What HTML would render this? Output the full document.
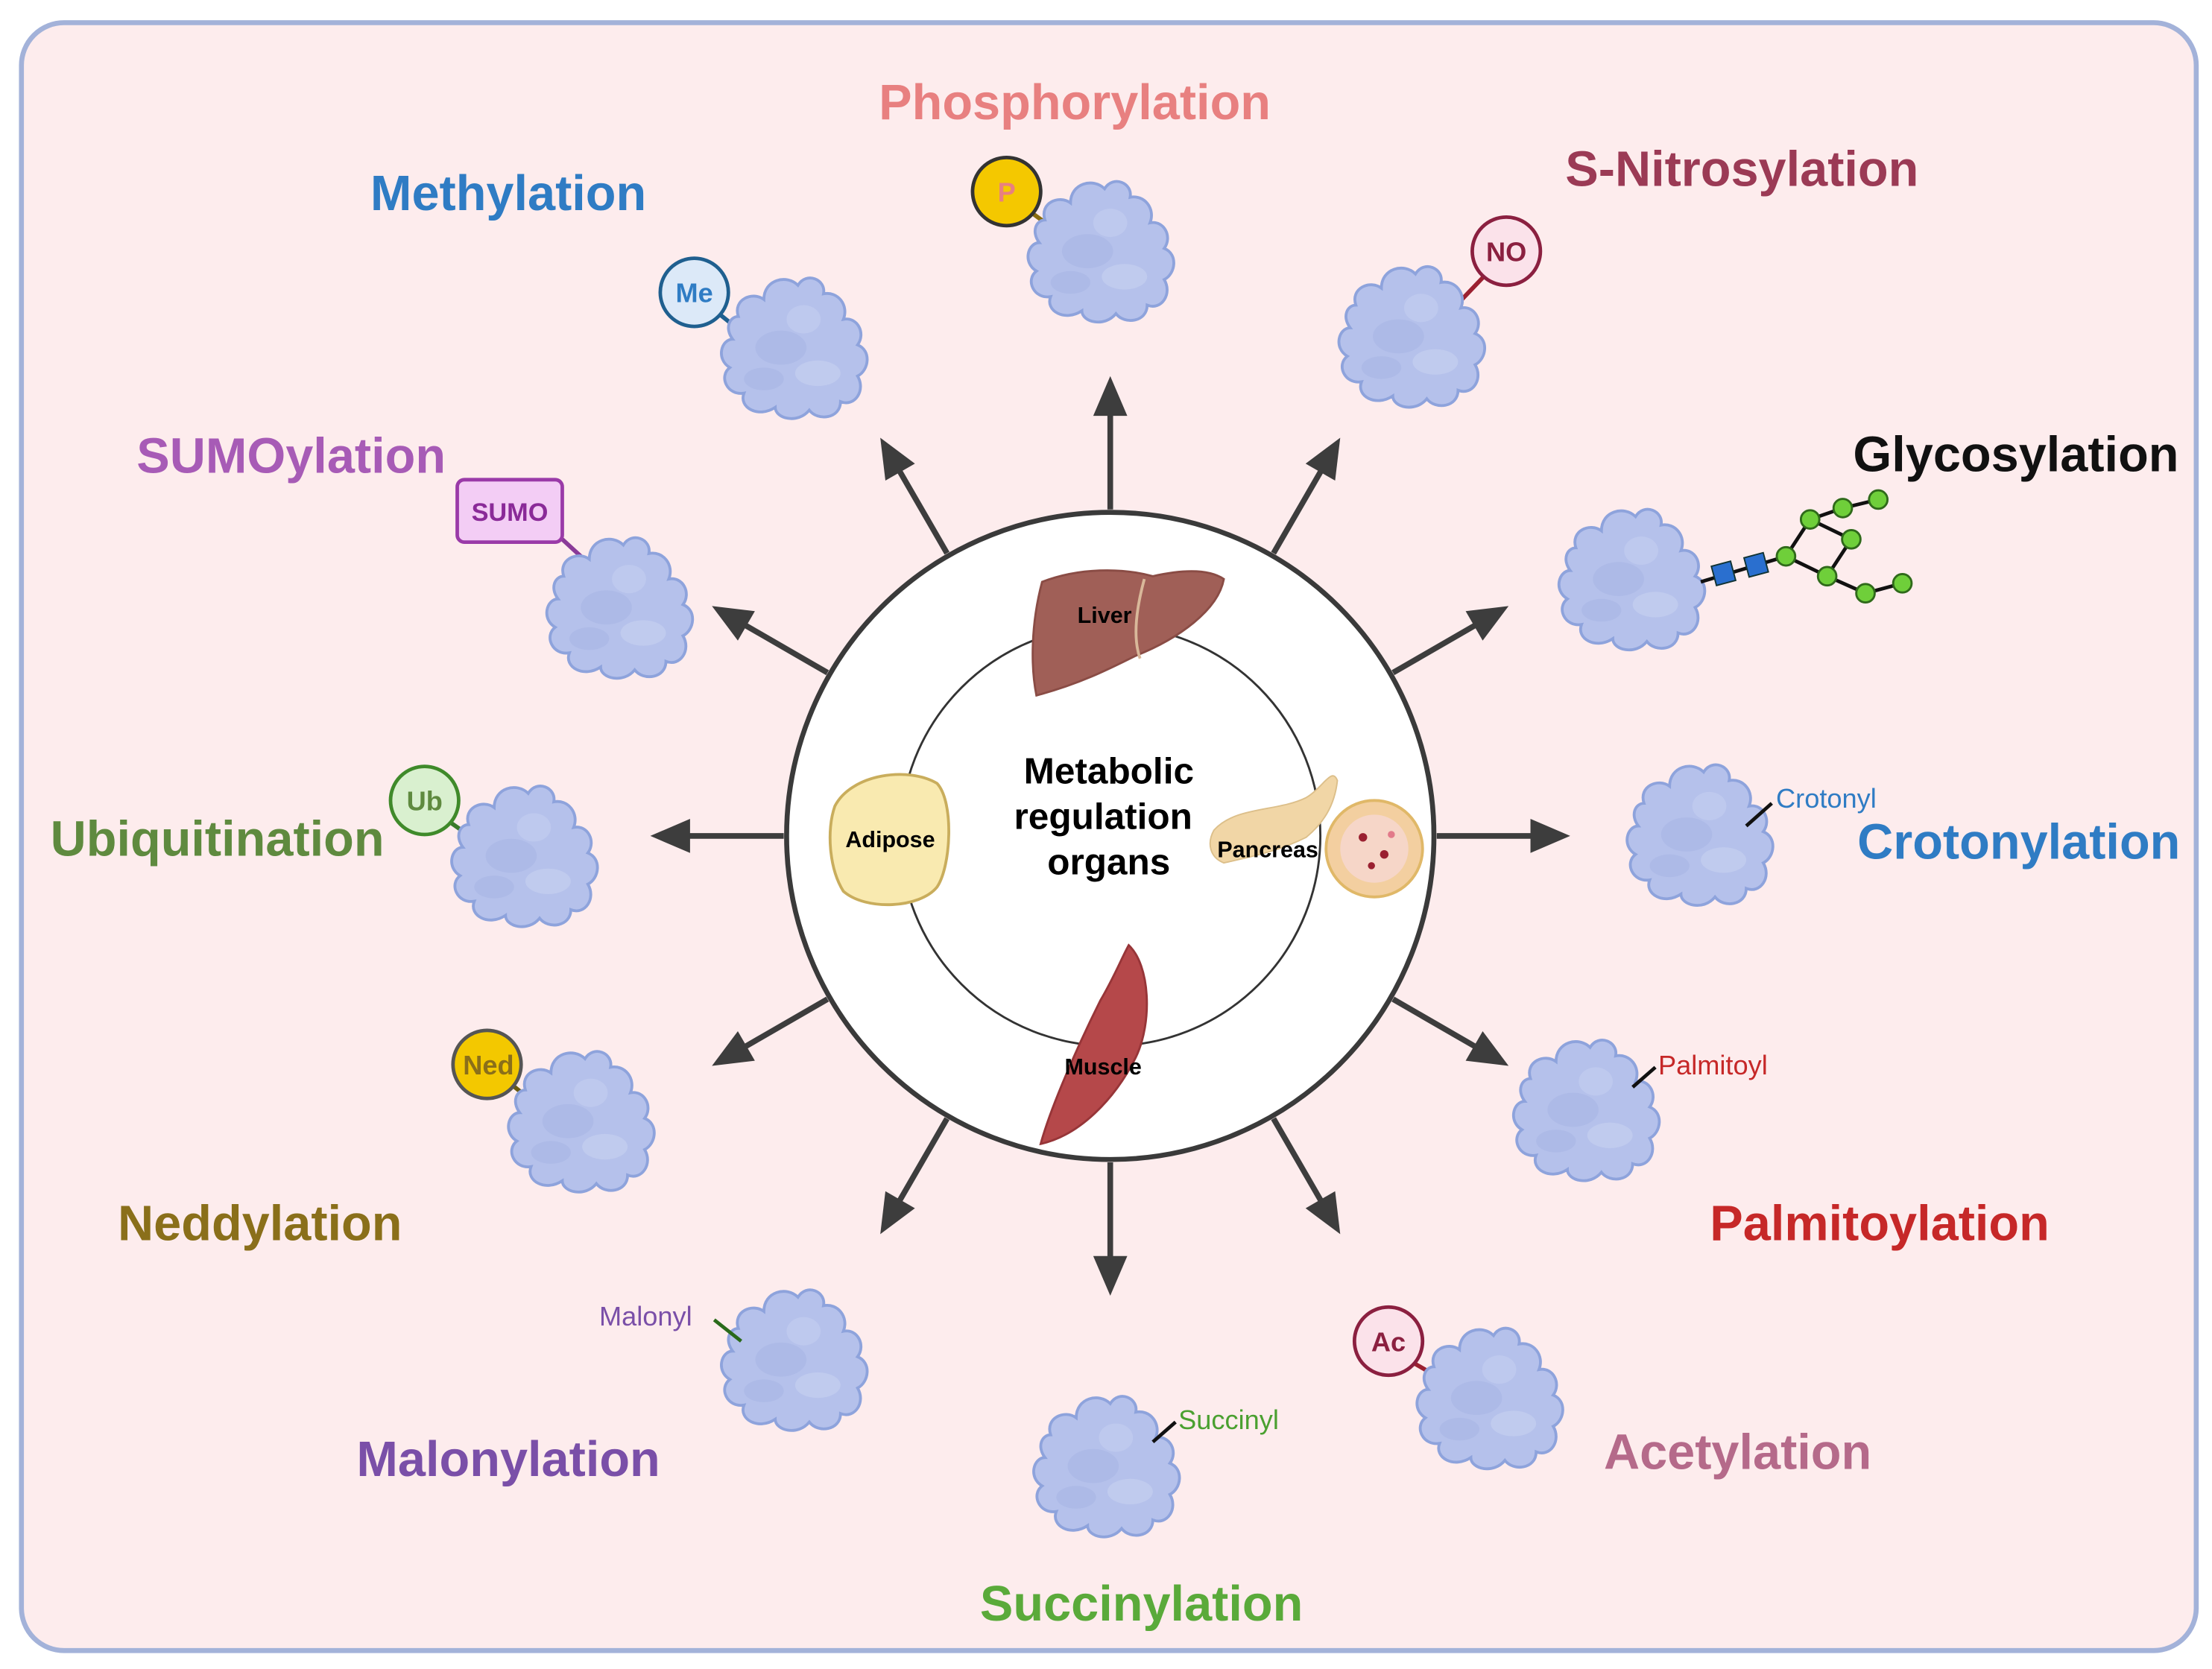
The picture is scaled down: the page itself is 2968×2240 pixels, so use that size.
<!DOCTYPE html>
<html><head><meta charset="utf-8"><style>
html,body{margin:0;padding:0;background:#fff;}
svg{display:block;}
text{font-family:"Liberation Sans",sans-serif;}
.lbl{font-weight:bold;font-size:35px;text-anchor:middle;}
.sm{font-size:19px;}
</style></head><body>
<svg width="2968" height="2240" viewBox="0 0 1558 1176" xmlns="http://www.w3.org/2000/svg">
<defs>
<g id="prot">
<path d="M-40,-22 C-44,-34 -30,-40 -22,-34 C-22,-48 -6,-52 2,-44 C8,-54 22,-48 20,-38 C30,-40 38,-30 34,-20 C44,-22 50,-10 44,-2 C54,2 52,16 44,20 C50,30 42,42 32,38 C32,50 16,52 10,44 C2,54 -14,50 -14,42 C-26,50 -40,42 -36,32 C-48,34 -54,20 -46,14 C-56,8 -52,-6 -44,-6 C-50,-14 -46,-22 -40,-22 Z" fill="#b5c1eb" stroke="#8ea3dc" stroke-width="2"/>
<ellipse cx="-10" cy="0" rx="18" ry="12" fill="#a9b7e6" opacity="0.7"/>
<ellipse cx="16" cy="18" rx="16" ry="9" fill="#c3cdef" opacity="0.8"/>
<ellipse cx="6" cy="-20" rx="12" ry="10" fill="#c0cbef" opacity="0.8"/>
<ellipse cx="-22" cy="22" rx="14" ry="8" fill="#a9b7e6" opacity="0.7"/>
</g>
<g id="arr">
<line x1="0" y1="-230" x2="0" y2="-300" stroke="#3d3d3d" stroke-width="4"/>
<polygon points="0,-324 -12,-296 12,-296" fill="#3d3d3d"/>
</g>
</defs>
<rect x="0" y="0" width="1558" height="1176" fill="#fff"/>
<rect x="15" y="16" width="1532" height="1147" rx="30" fill="#fdeced" stroke="#a3b2d9" stroke-width="3.5"/>

<!-- arrows -->
<g transform="translate(782,589)">
<use href="#arr" transform="rotate(0)"/><use href="#arr" transform="rotate(30)"/>
<use href="#arr" transform="rotate(60)"/><use href="#arr" transform="rotate(90)"/>
<use href="#arr" transform="rotate(120)"/><use href="#arr" transform="rotate(150)"/>
<use href="#arr" transform="rotate(180)"/><use href="#arr" transform="rotate(210)"/>
<use href="#arr" transform="rotate(240)"/><use href="#arr" transform="rotate(270)"/>
<use href="#arr" transform="rotate(300)"/><use href="#arr" transform="rotate(330)"/>
</g>

<!-- center -->
<circle cx="782" cy="589" r="228" fill="#fff" stroke="#3a3a3a" stroke-width="3.5"/>
<circle cx="782" cy="589" r="148" fill="none" stroke="#333" stroke-width="1.5"/>
<text x="781" y="552" font-size="26" font-weight="bold" text-anchor="middle">Metabolic</text>
<text x="777" y="584" font-size="26" font-weight="bold" text-anchor="middle">regulation</text>
<text x="781" y="616" font-size="26" font-weight="bold" text-anchor="middle">organs</text>

<!-- liver -->
<path d="M734,410 C760,400 790,400 812,406 C830,402 850,400 862,408 C858,430 830,450 800,462 C780,472 760,482 730,490 C726,470 726,440 734,410 Z" fill="#a05f57" stroke="#8a4c45" stroke-width="1.5"/>
<path d="M806,408 C800,430 798,450 803,464" stroke="#d9b89a" stroke-width="2" fill="none"/>
<text x="778" y="439" font-size="16" font-weight="bold" text-anchor="middle">Liver</text>
<!-- adipose -->
<path d="M588,568 C600,545 640,540 660,552 C672,565 670,610 660,625 C648,640 610,642 594,628 C584,612 582,585 588,568 Z" fill="#f9eab0" stroke="#c9ad5c" stroke-width="2"/>
<text x="627" y="597" font-size="16" font-weight="bold" text-anchor="middle">Adipose</text>
<!-- pancreas -->
<path d="M855,585 C870,568 900,572 920,562 C932,555 938,540 942,550 C940,568 932,580 920,590 C900,600 880,604 862,608 C852,604 850,594 855,585 Z" fill="#f1d6a6" stroke="#dcbf8a" stroke-width="1"/>
<circle cx="968" cy="598" r="34" fill="#f3cfa0" stroke="#e0b868" stroke-width="2"/>
<circle cx="968" cy="598" r="24" fill="#f6d6c8"/>
<circle cx="960" cy="590" r="3" fill="#9a2030"/><circle cx="975" cy="602" r="3" fill="#9a2030"/><circle cx="966" cy="610" r="2.5" fill="#9a2030"/><circle cx="980" cy="588" r="2.5" fill="#e27a8a"/>
<text x="893" y="604" font-size="16" font-weight="bold" text-anchor="middle">Pancreas</text>
<!-- muscle -->
<path d="M795,666 C810,680 812,720 800,745 C785,775 760,800 733,806 C740,780 760,735 775,705 C785,688 790,675 795,666 Z" fill="#b5484a" stroke="#973538" stroke-width="1.5"/>
<text x="777" y="757" font-size="16" font-weight="bold" text-anchor="middle">Muscle</text>

<!-- Phosphorylation -->
<text x="757" y="84" class="lbl" fill="#e88080">Phosphorylation</text>
<line x1="724" y1="148" x2="746" y2="164" stroke="#8a6d10" stroke-width="3"/>
<use href="#prot" x="776" y="177"/>
<circle cx="709" cy="135" r="24" fill="#f4c800" stroke="#333" stroke-width="2.5"/>
<text x="709" y="142" font-size="19" fill="#e88080" text-anchor="middle" font-weight="bold">P</text>

<!-- Methylation -->
<text x="358" y="148" class="lbl" fill="#2f7cc4">Methylation</text>
<line x1="505" y1="220" x2="525" y2="236" stroke="#1f5f8f" stroke-width="3"/>
<use href="#prot" x="560" y="245"/>
<circle cx="489" cy="206" r="24" fill="#dce9f8" stroke="#1f5f8f" stroke-width="2.5"/>
<text x="489" y="213" font-size="19" fill="#2f7cc4" text-anchor="middle" font-weight="bold">Me</text>

<!-- S-Nitrosylation -->
<text x="1227" y="131" class="lbl" fill="#9b3a55">S-Nitrosylation</text>
<line x1="1045" y1="195" x2="1023" y2="218" stroke="#9b2030" stroke-width="3"/>
<use href="#prot" x="995" y="237"/>
<circle cx="1061" cy="177" r="24" fill="#fbe2ea" stroke="#8b2040" stroke-width="2.5"/>
<text x="1061" y="184" font-size="19" fill="#8b2040" text-anchor="middle" font-weight="bold">NO</text>

<!-- Glycosylation -->
<text x="1420" y="332" class="lbl" fill="#111">Glycosylation</text>
<use href="#prot" x="1150" y="408"/>
<g stroke="#111" stroke-width="2.5" fill="none">
<polyline points="1198,410 1258,392 1275,366 1298,358 1323,352"/>
<polyline points="1258,392 1287,406 1314,418 1340,411"/>
<line x1="1275" y1="366" x2="1304" y2="380"/><line x1="1304" y1="380" x2="1287" y2="406"/>
</g>
<rect x="1207" y="397" width="14" height="14" fill="#2a6fcf" stroke="#133" transform="rotate(-15 1214 404)"/>
<rect x="1230" y="391" width="14" height="14" fill="#2a6fcf" stroke="#133" transform="rotate(-15 1237 398)"/>
<g fill="#6fcf3a" stroke="#2f6a1a" stroke-width="1.5">
<circle cx="1258" cy="392" r="6.5"/><circle cx="1275" cy="366" r="6.5"/><circle cx="1298" cy="358" r="6.5"/><circle cx="1323" cy="352" r="6.5"/>
<circle cx="1304" cy="380" r="6.5"/><circle cx="1287" cy="406" r="6.5"/><circle cx="1314" cy="418" r="6.5"/><circle cx="1340" cy="411" r="6.5"/>
</g>

<!-- SUMOylation -->
<text x="205" y="333" class="lbl" fill="#a75bb6">SUMOylation</text>
<line x1="396" y1="380" x2="420" y2="402" stroke="#8a3a98" stroke-width="3"/>
<use href="#prot" x="437" y="428"/>
<rect x="322" y="338" width="74" height="44" rx="5" fill="#f3cdf5" stroke="#9a3aa8" stroke-width="2.5"/>
<text x="359" y="367" font-size="18" fill="#8a2a98" text-anchor="middle" font-weight="bold">SUMO</text>

<!-- Ubiquitination -->
<text x="153" y="603" class="lbl" fill="#5f8a3f">Ubiquitination</text>
<line x1="315" y1="578" x2="335" y2="592" stroke="#3a7a2a" stroke-width="3"/>
<use href="#prot" x="370" y="603"/>
<circle cx="299" cy="564" r="24" fill="#d9f0cf" stroke="#3f8a2a" stroke-width="2.5"/>
<text x="299" y="571" font-size="19" fill="#5f8a3f" text-anchor="middle" font-weight="bold">Ub</text>

<!-- Crotonylation -->
<text x="1422" y="605" class="lbl" fill="#2f7cc4">Crotonylation</text>
<use href="#prot" x="1198" y="588"/>
<line x1="1230" y1="582" x2="1248" y2="566" stroke="#111" stroke-width="2.5"/>
<text x="1251" y="569" font-size="19" fill="#2f7cc4">Crotonyl</text>

<!-- Neddylation -->
<text x="183" y="874" class="lbl" fill="#8a6f1a">Neddylation</text>
<line x1="360" y1="764" x2="380" y2="780" stroke="#6a5a10" stroke-width="3"/>
<use href="#prot" x="410" y="790"/>
<circle cx="343" cy="750" r="24" fill="#f3c800" stroke="#555" stroke-width="2.5"/>
<text x="344" y="757" font-size="19" fill="#8a6f1a" text-anchor="middle" font-weight="bold">Ned</text>

<!-- Palmitoylation -->
<text x="1324" y="874" class="lbl" fill="#c62828">Palmitoylation</text>
<use href="#prot" x="1118" y="782"/>
<line x1="1150" y1="766" x2="1166" y2="752" stroke="#111" stroke-width="2.5"/>
<text x="1168" y="757" font-size="19" fill="#c62828">Palmitoyl</text>

<!-- Malonylation -->
<text x="358" y="1040" class="lbl" fill="#7a4fa8">Malonylation</text>
<use href="#prot" x="560" y="958"/>
<line x1="503" y1="930" x2="522" y2="945" stroke="#2a6a1a" stroke-width="2.5"/>
<text x="422" y="934" font-size="19" fill="#7a4fa8">Malonyl</text>

<!-- Succinylation -->
<text x="804" y="1142" class="lbl" fill="#5aaa3a">Succinylation</text>
<use href="#prot" x="780" y="1033"/>
<line x1="812" y1="1016" x2="828" y2="1002" stroke="#111" stroke-width="2.5"/>
<text x="830" y="1007" font-size="19" fill="#4aa030">Succinyl</text>

<!-- Acetylation -->
<text x="1224" y="1035" class="lbl" fill="#b56a8a">Acetylation</text>
<line x1="995" y1="960" x2="1016" y2="972" stroke="#9b2030" stroke-width="3"/>
<use href="#prot" x="1050" y="985"/>
<circle cx="978" cy="945" r="24" fill="#fbe2ea" stroke="#8b2040" stroke-width="2.5"/>
<text x="978" y="952" font-size="19" fill="#8b2040" text-anchor="middle" font-weight="bold">Ac</text>
</svg>
</body></html>
